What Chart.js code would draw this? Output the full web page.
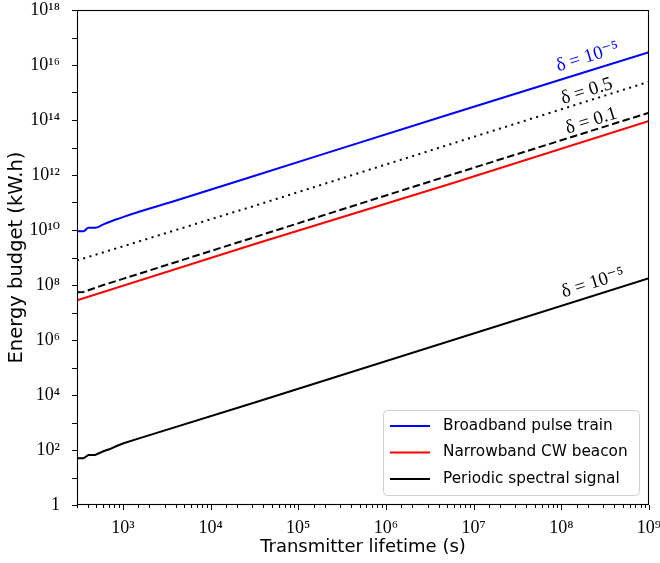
<!DOCTYPE html>
<html><head><meta charset="utf-8">
<script src="https://cdn.jsdelivr.net/npm/chart.js@4"></script>
<style>html,body{margin:0;padding:0;background:#fff}#wrap{width:660px;height:563px;position:relative}</style>
</head><body><div id="wrap"><canvas id="c" width="660" height="563"></canvas></div>
<script>
// ---- data ----
const broadbandX = [300, 356, 405, 482, 600, 700, 850, 1019, 1500, 4140, 34000, 5.46e6, 1e9];
const broadbandY = [9.1e9, 9.1e9, 1.2e10, 1.2e10, 1.6e10, 1.95e10, 2.45e10, 3.0e10, 4.5e10, 1.2e11, 1.0e12, 1.66e14, 2.9e16];
const delta05X = [300, 34000, 1e9];
const delta05Y = [7.8e8, 8.1e10, 2.47e15];
const delta01X = [300, 356, 600, 1019, 5.46e6, 1e9];
const delta01Y = [5.4e7, 5.6e7, 1.0e8, 1.7e8, 1.0e12, 1.84e14];
const narrowbandX = [300, 34000, 5.46e6, 1e9];
const narrowbandY = [2.8e7, 3.3e9, 4.8e11, 9.2e13];
const periodicX = [300, 356, 405, 482, 600, 700, 850, 1019, 1500, 34000, 1e9];
const periodicY = [50, 50, 66, 66, 90, 106, 140, 175, 260, 5700, 1.75e8];

const legendLabels = ['Broadband pulse train', 'Narrowband CW beacon', 'Periodic spectral signal'];
const xTickExps = [3, 4, 5, 6, 7, 8, 9];
const yTickExps = [0,1,2,3,4,5,6,7,8,9,10,11,12,13,14,15,16,17,18];
const yLabelExps = [0,2,4,6,8,10,12,14,16,18];
const annotTexts = ['δ = 10⁻⁵', 'δ = 0.5', 'δ = 0.1', 'δ = 10⁻⁵'];
const annotX = [2.0e8, 1.95e8, 2.2e8, 2.3e8];
const annotY = [1.95e16, 1.1e15, 9.2e13, 1.18e8];
const annotColors = ['#0000ff', '#000000', '#000000', '#000000'];

const SUP = {'0':'⁰','1':'¹','2':'²','3':'³','4':'⁴','5':'⁵','6':'⁶','7':'⁷','8':'⁸','9':'⁹','-':'⁻'};
const pow10 = e => '10' + String(e).split('').map(c => SUP[c]).join('');
const toPts = (xs, ys) => xs.map((x, i) => ({x, y: ys[i]}));
const isDecade = v => Math.abs(Math.log10(v) - Math.round(Math.log10(v))) < 1e-9;

const SERIF = "'Liberation Serif', 'DejaVu Serif', serif";
const SANS = "'DejaVu Sans', sans-serif";

const decor = {
  id: 'decor',
  afterDraw(chart) {
    const {ctx, chartArea: a, scales: {x, y}} = chart;
    ctx.save();
    ctx.strokeStyle = '#000';
    ctx.lineWidth = 1;
    x.ticks.forEach(t => {
      const px = Math.round(x.getPixelForValue(t.value)) + 0.5;
      const L = isDecade(t.value) ? 5 : 3;
      ctx.beginPath(); ctx.moveTo(px, a.bottom); ctx.lineTo(px, a.bottom + L); ctx.stroke();
    });
    y.ticks.forEach(t => {
      const py = Math.round(y.getPixelForValue(t.value)) + 0.5;
      ctx.beginPath(); ctx.moveTo(a.left, py); ctx.lineTo(a.left - 5, py); ctx.stroke();
    });
    ctx.lineWidth = 1.1;
    ctx.strokeRect(Math.round(a.left) + 0.5, Math.round(a.top) + 0.5, Math.round(a.right - a.left) - 1, Math.round(a.bottom - a.top) - 1);

    const ang = Math.atan2(y.getPixelForValue(1e10) - y.getPixelForValue(1e9), x.getPixelForValue(1e4) - x.getPixelForValue(1e3));
    ctx.font = '19px ' + SERIF;
    ctx.textAlign = 'center';
    ctx.textBaseline = 'middle';
    annotTexts.forEach((txt, i) => {
      const px = x.getPixelForValue(annotX[i]);
      const py = y.getPixelForValue(annotY[i]);
      ctx.save();
      ctx.translate(px, py);
      ctx.rotate(ang);
      ctx.fillStyle = annotColors[i];
      ctx.fillText(txt, 0, 0);
      ctx.restore();
    });

    const bw = 256, bh = 85;
    const bx = a.right - 10 - bw, by = a.bottom - 10 - bh;
    ctx.beginPath();
    if (ctx.roundRect) ctx.roundRect(bx + 0.5, by + 0.5, bw, bh, 4); else ctx.rect(bx + 0.5, by + 0.5, bw, bh);
    ctx.fillStyle = 'rgba(255,255,255,0.85)';
    ctx.fill();
    ctx.strokeStyle = '#d0d0d0';
    ctx.lineWidth = 1;
    ctx.stroke();
    ctx.font = '15.3px ' + SANS;
    ctx.textAlign = 'left';
    ctx.textBaseline = 'middle';
    const items = chart.data.datasets.filter(d => legendLabels.includes(d.label));
    items.forEach((d, i) => {
      const ry = by + 16 + i * 26.5;
      ctx.strokeStyle = d.borderColor;
      ctx.lineWidth = 2;
      ctx.beginPath(); ctx.moveTo(bx + 7, ry); ctx.lineTo(bx + 47, ry); ctx.stroke();
      ctx.fillStyle = '#000';
      ctx.fillText(d.label, bx + 60, ry);
    });
    ctx.restore();
  }
};

new Chart(document.getElementById('c'), {
  type: 'line',
  data: {
    datasets: [
      {label: 'Broadband pulse train', data: toPts(broadbandX, broadbandY), borderColor: '#0000ff', borderWidth: 2, pointRadius: 0, cubicInterpolationMode: 'monotone'},
      {label: 'δ = 0.5', data: toPts(delta05X, delta05Y), borderColor: '#000000', borderWidth: 2, borderDash: [2, 4.5], pointRadius: 0},
      {label: 'δ = 0.1', data: toPts(delta01X, delta01Y), borderColor: '#000000', borderWidth: 2, borderDash: [7.5, 3.5], pointRadius: 0},
      {label: 'Narrowband CW beacon', data: toPts(narrowbandX, narrowbandY), borderColor: '#ff0000', borderWidth: 2, pointRadius: 0},
      {label: 'Periodic spectral signal', data: toPts(periodicX, periodicY), borderColor: '#000000', borderWidth: 2, pointRadius: 0}
    ]
  },
  options: {
    responsive: false,
    animation: false,
    layout: {padding: {top: 10, right: 11, left: 0, bottom: 0}},
    plugins: {legend: {display: false}, tooltip: {enabled: false}},
    scales: {
      x: {
        type: 'logarithmic', min: 300, max: 1e9,
        grid: {display: false}, border: {display: false},
        ticks: {
          autoSkip: false, maxRotation: 0, padding: 4, color: '#000',
          font: {family: SERIF, size: 18},
          callback: v => { const e = Math.round(Math.log10(v)); return (isDecade(v) && xTickExps.includes(e)) ? pow10(e) : ''; }
        },
        title: {display: true, text: 'Transmitter lifetime (s)', color: '#000', font: {family: SANS, size: 18}, padding: {top: 0, bottom: 5}},
        afterFit: s => { s.height = 58; s.paddingLeft = 0; s.paddingRight = 0; }
      },
      y: {
        type: 'logarithmic', min: 1, max: 1e18,
        grid: {display: false}, border: {display: false},
        afterBuildTicks: s => { s.ticks = yTickExps.map(e => ({value: Math.pow(10, e)})); },
        ticks: {
          autoSkip: false, padding: 9, color: '#000',
          font: {family: SERIF, size: 18},
          callback: v => { const e = Math.round(Math.log10(v)); return yLabelExps.includes(e) ? (e === 0 ? '1' : pow10(e)) : ''; }
        },
        title: {display: true, text: 'Energy budget (kW.h)', color: '#000', font: {family: SANS, size: 19.5}, padding: {top: 5, bottom: 0}},
        afterFit: s => { s.width = 77; s.paddingTop = 0; s.paddingBottom = 0; }
      }
    }
  },
  plugins: [decor]
});
</script></body></html>
